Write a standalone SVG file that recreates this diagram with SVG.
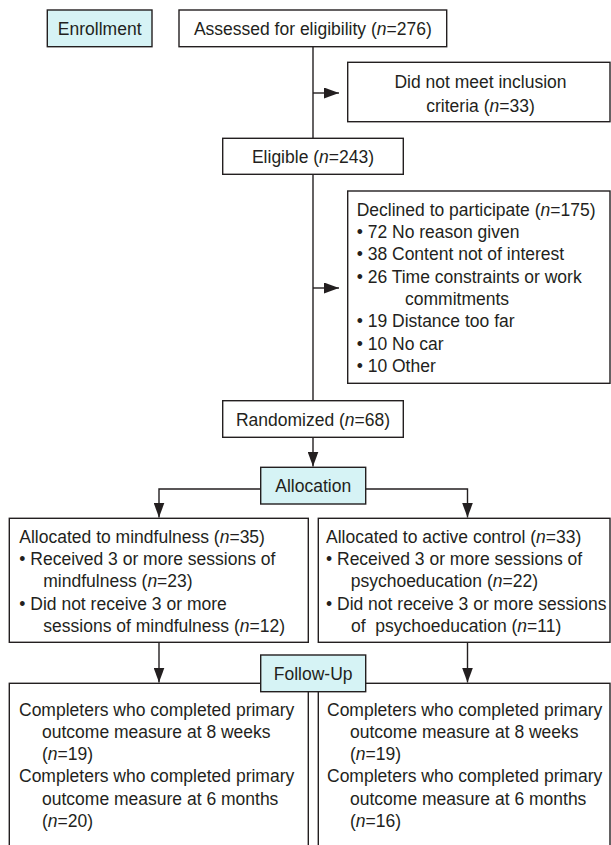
<svg xmlns="http://www.w3.org/2000/svg" width="611" height="845" viewBox="0 0 611 845">
<style>
  .box { fill: #ffffff; stroke: #231f20; stroke-width: 1.4; }
  .hl { fill: #d6f3f5; stroke: #231f20; stroke-width: 1.4; }
  text { font-family: "Liberation Sans", Arial, Helvetica, sans-serif; font-size: 17.5px; fill: #231f20; }
  .c { text-anchor: middle; }
  .i { font-style: italic; }
  .ln { fill: none; stroke: #231f20; stroke-width: 1.4; }
</style>
<defs>
  <marker id="ah" viewBox="0 0 15 11" refX="15" refY="5.5" markerWidth="15" markerHeight="11" markerUnits="userSpaceOnUse" orient="auto">
    <path d="M0,0 L15,5.5 L0,11 Z" fill="#231f20"/>
  </marker>
</defs>
<rect width="611" height="845" fill="#ffffff"/>

<g id="connectors">
  <line class="ln" x1="313" y1="46.7" x2="313" y2="138.3"/>
  <line class="ln" x1="313" y1="93" x2="339" y2="93" marker-end="url(#ah)"/>
  <line class="ln" x1="313" y1="174.3" x2="313" y2="400.7"/>
  <line class="ln" x1="313" y1="288" x2="339" y2="288" marker-end="url(#ah)"/>
  <line class="ln" x1="313" y1="437.3" x2="313" y2="466.5" marker-end="url(#ah)"/>
  <polyline class="ln" points="260.7,489 159,489 159,517.5" marker-end="url(#ah)"/>
  <polyline class="ln" points="365.7,489 467.5,489 467.5,517.5" marker-end="url(#ah)"/>
  <line class="ln" x1="159" y1="642.3" x2="159" y2="682.5" marker-end="url(#ah)"/>
  <line class="ln" x1="467.5" y1="642.3" x2="467.5" y2="682.5" marker-end="url(#ah)"/>
</g>

<g id="enrollment">
  <rect class="hl" x="47.3" y="10" width="104.7" height="36.7"/>
  <text class="c" x="99.7" y="34.7">Enrollment</text>
</g>

<g id="assessed">
  <rect class="box" x="179" y="10" width="267.7" height="36.7"/>
  <text class="c" x="312.8" y="34.7">Assessed for eligibility (<tspan class="i">n</tspan>=276)</text>
</g>

<g id="excluded">
  <rect class="box" x="347.7" y="62.3" width="262.3" height="59.4"/>
  <text class="c" x="480.5" y="88.3">Did not meet inclusion</text>
  <text class="c" x="480.5" y="111.5">criteria (<tspan class="i">n</tspan>=33)</text>
</g>

<g id="eligible">
  <rect class="box" x="222.7" y="138.3" width="180.6" height="36"/>
  <text class="c" x="313" y="163">Eligible (<tspan class="i">n</tspan>=243)</text>
</g>

<g id="declined">
  <rect class="box" x="347.7" y="191" width="262.3" height="192.3"/>
  <text x="356.7" y="215.7">Declined to participate (<tspan class="i">n</tspan>=175)</text>
  <text x="356.7" y="238">• 72 No reason given</text>
  <text x="356.7" y="260.3">• 38 Content not of interest</text>
  <text x="356.7" y="282.6">• 26 Time constraints or work</text>
  <text x="405" y="304.9">commitments</text>
  <text x="356.7" y="327.2">• 19 Distance too far</text>
  <text x="356.7" y="349.5">• 10 No car</text>
  <text x="356.7" y="371.8">• 10 Other</text>
</g>

<g id="randomized">
  <rect class="box" x="222.7" y="400.7" width="180.6" height="36.6"/>
  <text class="c" x="313" y="425.6">Randomized (<tspan class="i">n</tspan>=68)</text>
</g>

<g id="allocation">
  <rect class="hl" x="260.7" y="467.3" width="105" height="36.7"/>
  <text class="c" x="313.2" y="492">Allocation</text>
</g>

<g id="alloc-mindfulness">
  <rect class="box" x="9.3" y="518.3" width="299" height="124"/>
  <text x="19.3" y="542.7">Allocated to mindfulness (<tspan class="i">n</tspan>=35)</text>
  <text x="19.3" y="565">• Received 3 or more sessions of</text>
  <text x="43.3" y="587.3">mindfulness (<tspan class="i">n</tspan>=23)</text>
  <text x="19.3" y="609.6">• Did not receive 3 or more</text>
  <text x="43.3" y="631.9">sessions of mindfulness (<tspan class="i">n</tspan>=12)</text>
</g>

<g id="alloc-control">
  <rect class="box" x="318.3" y="518.3" width="291.7" height="124"/>
  <text x="326" y="542.7">Allocated to active control (<tspan class="i">n</tspan>=33)</text>
  <text x="326" y="565">• Received 3 or more sessions of</text>
  <text x="350.7" y="587.3">psychoeducation (<tspan class="i">n</tspan>=22)</text>
  <text x="326" y="609.6">• Did not receive 3 or more sessions</text>
  <text x="351" y="631.9" xml:space="preserve">of  psychoeducation (<tspan class="i">n</tspan>=11)</text>
</g>

<g id="followup-mindfulness">
  <rect class="box" x="9.3" y="683.3" width="299" height="175"/>
  <text x="19" y="715.5">Completers who completed primary</text>
  <text x="42" y="737.8">outcome measure at 8 weeks</text>
  <text x="42" y="760.1">(<tspan class="i">n</tspan>=19)</text>
  <text x="19" y="782.4">Completers who completed primary</text>
  <text x="42" y="804.7">outcome measure at 6 months</text>
  <text x="42" y="827">(<tspan class="i">n</tspan>=20)</text>
</g>

<g id="followup-control">
  <rect class="box" x="318.3" y="683.3" width="291.7" height="175"/>
  <text x="327" y="715.5">Completers who completed primary</text>
  <text x="350" y="737.8">outcome measure at 8 weeks</text>
  <text x="350" y="760.1">(<tspan class="i">n</tspan>=19)</text>
  <text x="327" y="782.4">Completers who completed primary</text>
  <text x="350" y="804.7">outcome measure at 6 months</text>
  <text x="350" y="827">(<tspan class="i">n</tspan>=16)</text>
</g>

<g id="followup">
  <rect class="hl" x="260.7" y="655" width="105" height="36.7"/>
  <text class="c" x="313.2" y="679.7">Follow-Up</text>
</g>
</svg>
